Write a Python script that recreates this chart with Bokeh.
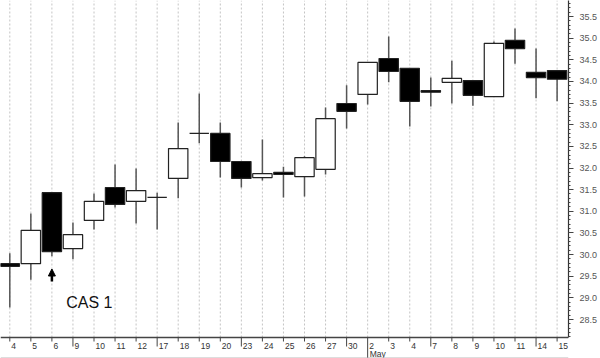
import numpy as np
from bokeh.plotting import figure
from bokeh.models import (Range1d, LinearAxis, FixedTicker, PrintfTickFormatter,
                          Arrow, NormalHead, ColumnDataSource)
from bokeh.core.properties import value, field
from bokeh.embed import file_html
from bokeh.resources import INLINE

# ---------------- data ----------------
day_labels = ["4", "5", "6", "9", "10", "11", "12", "17", "18", "19", "20", "23", "24",
              "25", "26", "27", "30", "2", "3", "4", "7", "8", "9", "10", "11", "14", "15"]
week_start_idx = [3, 7, 11, 16, 17, 20, 25]
month_label = "May"
month_start_idx = 17

opens  = [29.79, 29.79, 31.43, 30.14, 30.79, 31.55, 31.23, 31.32, 31.76, 32.80, 32.80, 32.15, 31.78,
          31.90, 31.80, 31.97, 33.49, 33.70, 34.53, 34.30, 33.79, 33.98, 34.02, 33.65, 34.95, 34.21, 34.25]
highs  = [30.03, 30.95, 31.43, 30.74, 31.41, 32.08, 31.99, 31.43, 33.05, 33.72, 33.05, 32.15, 32.66,
          32.03, 32.27, 33.40, 33.91, 34.44, 35.04, 34.30, 34.09, 34.48, 34.02, 34.92, 35.22, 34.76, 34.25]
lows   = [28.78, 29.42, 29.96, 29.89, 30.58, 31.09, 30.72, 30.58, 31.30, 32.57, 31.78, 31.55, 31.71,
          31.32, 31.34, 31.85, 32.91, 33.47, 33.98, 32.96, 33.42, 33.49, 33.44, 33.65, 34.41, 33.61, 33.54]
closes = [29.73, 30.56, 30.07, 30.46, 31.23, 31.16, 31.48, 31.32, 32.45, 32.80, 32.15, 31.76, 31.87,
          31.85, 32.24, 33.14, 33.31, 34.44, 34.23, 33.54, 33.75, 34.07, 33.68, 34.88, 34.76, 34.09, 34.05]

y_ticks = [28.5, 29.0, 29.5, 30.0, 30.5, 31.0, 31.5, 32.0, 32.5, 33.0, 33.5, 34.0, 34.5, 35.0, 35.5]
annotation_text = "CAS 1"
annotation_idx = 2

# ---------------- layout ----------------
W, H = 600, 358
AXIS_W = 32
PX_PER_DAY = 21.05
PX_PER_UNIT = 43.29
FIRST_CENTER_PX = 9.3
TOP_VALUE = 35.5 + 16 / PX_PER_UNIT
AXIS_PX = 337

x0 = -FIRST_CENTER_PX / PX_PER_DAY
x1 = x0 + (W - AXIS_W) / PX_PER_DAY
y1 = TOP_VALUE
y0 = y1 - H / PX_PER_UNIT


def ypx(px):
    return y1 - px / PX_PER_UNIT


def dx(px):
    return px / PX_PER_DAY


FONT = value("Liberation Sans")

p = figure(width=W, height=H, x_range=Range1d(x0, x1), y_range=Range1d(y0, y1),
           output_backend="svg", toolbar_location=None, min_border=0,
           min_border_right=AXIS_W, x_axis_type=None, y_axis_type=None)
p.outline_line_color = None
p.background_fill_color = "white"
p.border_fill_color = "white"

idx = list(range(len(day_labels)))

# vertical dashed grid lines at each session
p.segment(x0=idx, y0=[ypx(AXIS_PX)] * len(idx), x1=idx, y1=[y1] * len(idx),
          line_color="#c4c4c4", line_width=1, line_dash="2 2")

# wicks
p.segment(x0=idx, y0=lows, x1=idx, y1=highs, line_color="#555555", line_width=1.5)

# bodies
src = ColumnDataSource(dict(
    x=idx,
    top=[max(o, c) for o, c in zip(opens, closes)],
    bottom=[min(o, c) for o, c in zip(opens, closes)],
    fill=["white" if c > o else "black" for o, c in zip(opens, closes)],
))
p.vbar(x="x", top="top", bottom="bottom", width=0.92, source=src,
       fill_color=field("fill"), line_color="#222222", line_width=1.2)

# right price axis
minor = [round(v, 2) for v in np.arange(28.1, 35.85, 0.1)]
yaxis = LinearAxis(ticker=FixedTicker(ticks=y_ticks, minor_ticks=minor),
                   formatter=PrintfTickFormatter(format="%.1f"),
                   bounds=(ypx(AXIS_PX), y1))
yaxis.axis_line_color = "#333333"
yaxis.axis_line_width = 1.2
yaxis.major_tick_out = 5
yaxis.major_tick_in = 0
yaxis.minor_tick_out = 2
yaxis.minor_tick_in = 0
yaxis.major_tick_line_color = "#444444"
yaxis.minor_tick_line_color = "#444444"
yaxis.major_label_standoff = 6
yaxis.major_label_text_font_size = "9px"
yaxis.major_label_text_font = "Liberation Sans"
yaxis.major_label_text_color = "#555555"
p.add_layout(yaxis, "right")

# bottom date axis (drawn inside the frame)
p.segment(x0=[x0], y0=[ypx(AXIS_PX)], x1=[x1], y1=[ypx(AXIS_PX)],
          line_color="#444444", line_width=1.5)
minor_idx = [i for i in idx if i not in week_start_idx]
p.segment(x0=minor_idx, y0=[ypx(AXIS_PX)] * len(minor_idx), x1=minor_idx,
          y1=[ypx(AXIS_PX + 4)] * len(minor_idx), line_color="#444444", line_width=1)
major_idx = [i for i in week_start_idx if i != month_start_idx]
p.segment(x0=major_idx, y0=[ypx(AXIS_PX)] * len(major_idx), x1=major_idx,
          y1=[ypx(AXIS_PX + 9)] * len(major_idx), line_color="#444444", line_width=1)
p.segment(x0=[month_start_idx], y0=[ypx(AXIS_PX)], x1=[month_start_idx],
          y1=[ypx(H)], line_color="#444444", line_width=1)
p.text(x=[i + dx(1.5) for i in idx], y=[ypx(345.5)] * len(idx), text=day_labels,
       text_font=FONT, text_font_size="8.5px", text_align="left",
       text_baseline="alphabetic", text_color="#333333")
p.text(x=[month_start_idx + dx(2)], y=[ypx(353.5)], text=[month_label],
       text_font=FONT, text_font_size="8.5px", text_align="left",
       text_baseline="alphabetic", text_color="#333333")
p.segment(x0=[x0], y0=[ypx(357.5)], x1=[x1], y1=[ypx(357.5)],
          line_color="#bbbbbb", line_width=1)

# annotation arrow and text
p.add_layout(Arrow(end=NormalHead(size=7, fill_color="black", line_color="black"),
                   x_start=annotation_idx, y_start=ypx(281),
                   x_end=annotation_idx, y_end=ypx(268.5),
                   line_color="black", line_width=2.5))
p.text(x=[annotation_idx + dx(14.3)], y=[ypx(302)], text=[annotation_text],
       text_font=FONT, text_font_size="16px", text_align="left",
       text_baseline="alphabetic", text_color="#111111")

open("out.html", "w").write(file_html(p, INLINE))
